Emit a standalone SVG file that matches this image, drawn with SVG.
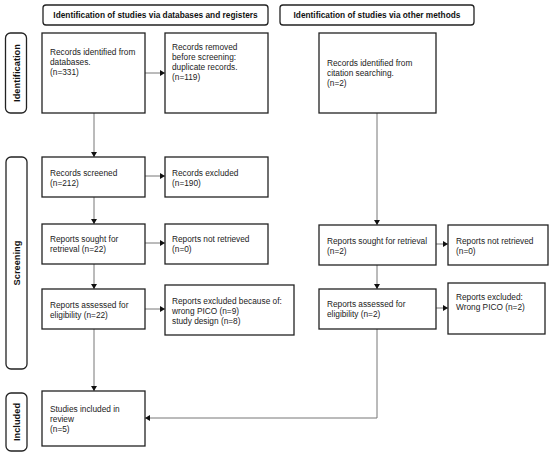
<svg xmlns="http://www.w3.org/2000/svg" width="550" height="454" viewBox="0 0 550 454">
<style>
.box{fill:#fff;stroke:#222;stroke-width:1.3}
.hdr{fill:#fff;stroke:#222;stroke-width:1.3}
.t{font-family:"Liberation Sans",Arial,sans-serif;font-size:8.3px;fill:#222}
.h{font-family:"Liberation Sans",Arial,sans-serif;font-size:8.3px;font-weight:bold;fill:#111}
.s{font-family:"Liberation Sans",Arial,sans-serif;font-size:9.3px;font-weight:bold;fill:#111}
.c{fill:none;stroke:#777;stroke-width:1}
</style>
<defs>
<marker id="ah" markerWidth="6" markerHeight="6" refX="5" refY="3" orient="auto" markerUnits="userSpaceOnUse">
<path d="M0,0 L5,3 L0,6 Z" fill="#111"/>
</marker>
</defs>
<rect width="550" height="454" fill="#fff"/>
<g id="header-left"><rect class="hdr" x="43" y="5" width="225" height="20" rx="3"/><text class="h" x="155.5" y="18" text-anchor="middle">Identification of studies via databases and registers</text></g>
<g id="header-right"><rect class="hdr" x="280" y="5" width="194" height="20" rx="3"/><text class="h" x="377" y="18" text-anchor="middle">Identification of studies via other methods</text></g>
<g id="stage-identification"><rect class="hdr" x="5.5" y="33" width="21" height="80" rx="5"/><text class="s" transform="translate(19.5,73) rotate(-90)" text-anchor="middle">Identification</text></g>
<g id="stage-screening"><rect class="hdr" x="6" y="157" width="21" height="212" rx="5"/><text class="s" transform="translate(20,263) rotate(-90)" text-anchor="middle">Screening</text></g>
<g id="stage-included"><rect class="hdr" x="6" y="393" width="21" height="58" rx="5"/><text class="s" transform="translate(20,422) rotate(-90)" text-anchor="middle">Included</text></g>
<g id="connectors">
<line class="c" x1="145" y1="73" x2="165" y2="73" marker-end="url(#ah)"/>
<line class="c" x1="94" y1="113" x2="94" y2="157" marker-end="url(#ah)"/>
<line class="c" x1="145" y1="176" x2="165" y2="176" marker-end="url(#ah)"/>
<line class="c" x1="94" y1="197" x2="94" y2="224" marker-end="url(#ah)"/>
<line class="c" x1="145" y1="243" x2="165" y2="243" marker-end="url(#ah)"/>
<line class="c" x1="94" y1="264" x2="94" y2="289" marker-end="url(#ah)"/>
<line class="c" x1="145" y1="309" x2="165" y2="309" marker-end="url(#ah)"/>
<line class="c" x1="94" y1="329" x2="94" y2="391" marker-end="url(#ah)"/>
<line class="c" x1="377" y1="113" x2="377" y2="225" marker-end="url(#ah)"/>
<line class="c" x1="436" y1="244" x2="448" y2="244" marker-end="url(#ah)"/>
<line class="c" x1="377" y1="265" x2="377" y2="289" marker-end="url(#ah)"/>
<line class="c" x1="436" y1="308" x2="448" y2="308" marker-end="url(#ah)"/>
<polyline class="c" points="377,329 377,418 145,418" marker-end="url(#ah)"/>
</g>
<g id="records-identified-db"><rect class="box" x="42" y="33" width="103" height="80"/><text class="t" x="50" y="55">Records identified from</text><text class="t" x="50" y="65">databases.</text><text class="t" x="50" y="75">(n=331)</text></g>
<g id="records-removed"><rect class="box" x="165" y="33" width="103" height="80"/><text class="t" x="172" y="50">Records removed</text><text class="t" x="172" y="60">before screening:</text><text class="t" x="172" y="70">duplicate records.</text><text class="t" x="172" y="80">(n=119)</text></g>
<g id="records-identified-citation"><rect class="box" x="319" y="33" width="117" height="80"/><text class="t" x="327" y="66">Records identified from</text><text class="t" x="327" y="76">citation searching.</text><text class="t" x="327" y="86">(n=2)</text></g>
<g id="records-screened"><rect class="box" x="42" y="157" width="103" height="40"/><text class="t" x="50" y="176">Records screened</text><text class="t" x="50" y="186">(n=212)</text></g>
<g id="records-excluded"><rect class="box" x="165" y="157" width="103" height="40"/><text class="t" x="172" y="176">Records excluded</text><text class="t" x="172" y="186">(n=190)</text></g>
<g id="reports-sought-db"><rect class="box" x="42" y="224" width="103" height="40"/><text class="t" x="50" y="242">Reports sought for</text><text class="t" x="50" y="252">retrieval (n=22)</text></g>
<g id="reports-not-retrieved-db"><rect class="box" x="165" y="224" width="103" height="40"/><text class="t" x="172" y="242">Reports not retrieved</text><text class="t" x="172" y="252">(n=0)</text></g>
<g id="reports-assessed-db"><rect class="box" x="42" y="289" width="103" height="40"/><text class="t" x="50" y="308">Reports assessed for</text><text class="t" x="50" y="318">eligibility (n=22)</text></g>
<g id="reports-excluded-db"><rect class="box" x="165" y="285" width="129" height="50"/><text class="t" x="172" y="304">Reports excluded because of:</text><text class="t" x="172" y="314">wrong PICO (n=9)</text><text class="t" x="172" y="324">study design (n=8)</text></g>
<g id="studies-included"><rect class="box" x="42" y="391" width="103" height="55"/><text class="t" x="50" y="412">Studies included in</text><text class="t" x="50" y="422">review</text><text class="t" x="50" y="432">(n=5)</text></g>
<g id="reports-sought-other"><rect class="box" x="319" y="225" width="117" height="40"/><text class="t" x="327" y="244">Reports sought for retrieval</text><text class="t" x="327" y="254">(n=2)</text></g>
<g id="reports-not-retrieved-other"><rect class="box" x="448" y="225" width="100" height="40"/><text class="t" x="456" y="244">Reports not retrieved</text><text class="t" x="456" y="254">(n=0)</text></g>
<g id="reports-assessed-other"><rect class="box" x="319" y="289" width="117" height="40"/><text class="t" x="327" y="307">Reports assessed for</text><text class="t" x="327" y="317">eligibility (n=2)</text></g>
<g id="reports-excluded-other"><rect class="box" x="448" y="283" width="97" height="51"/><text class="t" x="456" y="300">Reports excluded:</text><text class="t" x="456" y="310">Wrong PICO (n=2)</text></g>
</svg>
